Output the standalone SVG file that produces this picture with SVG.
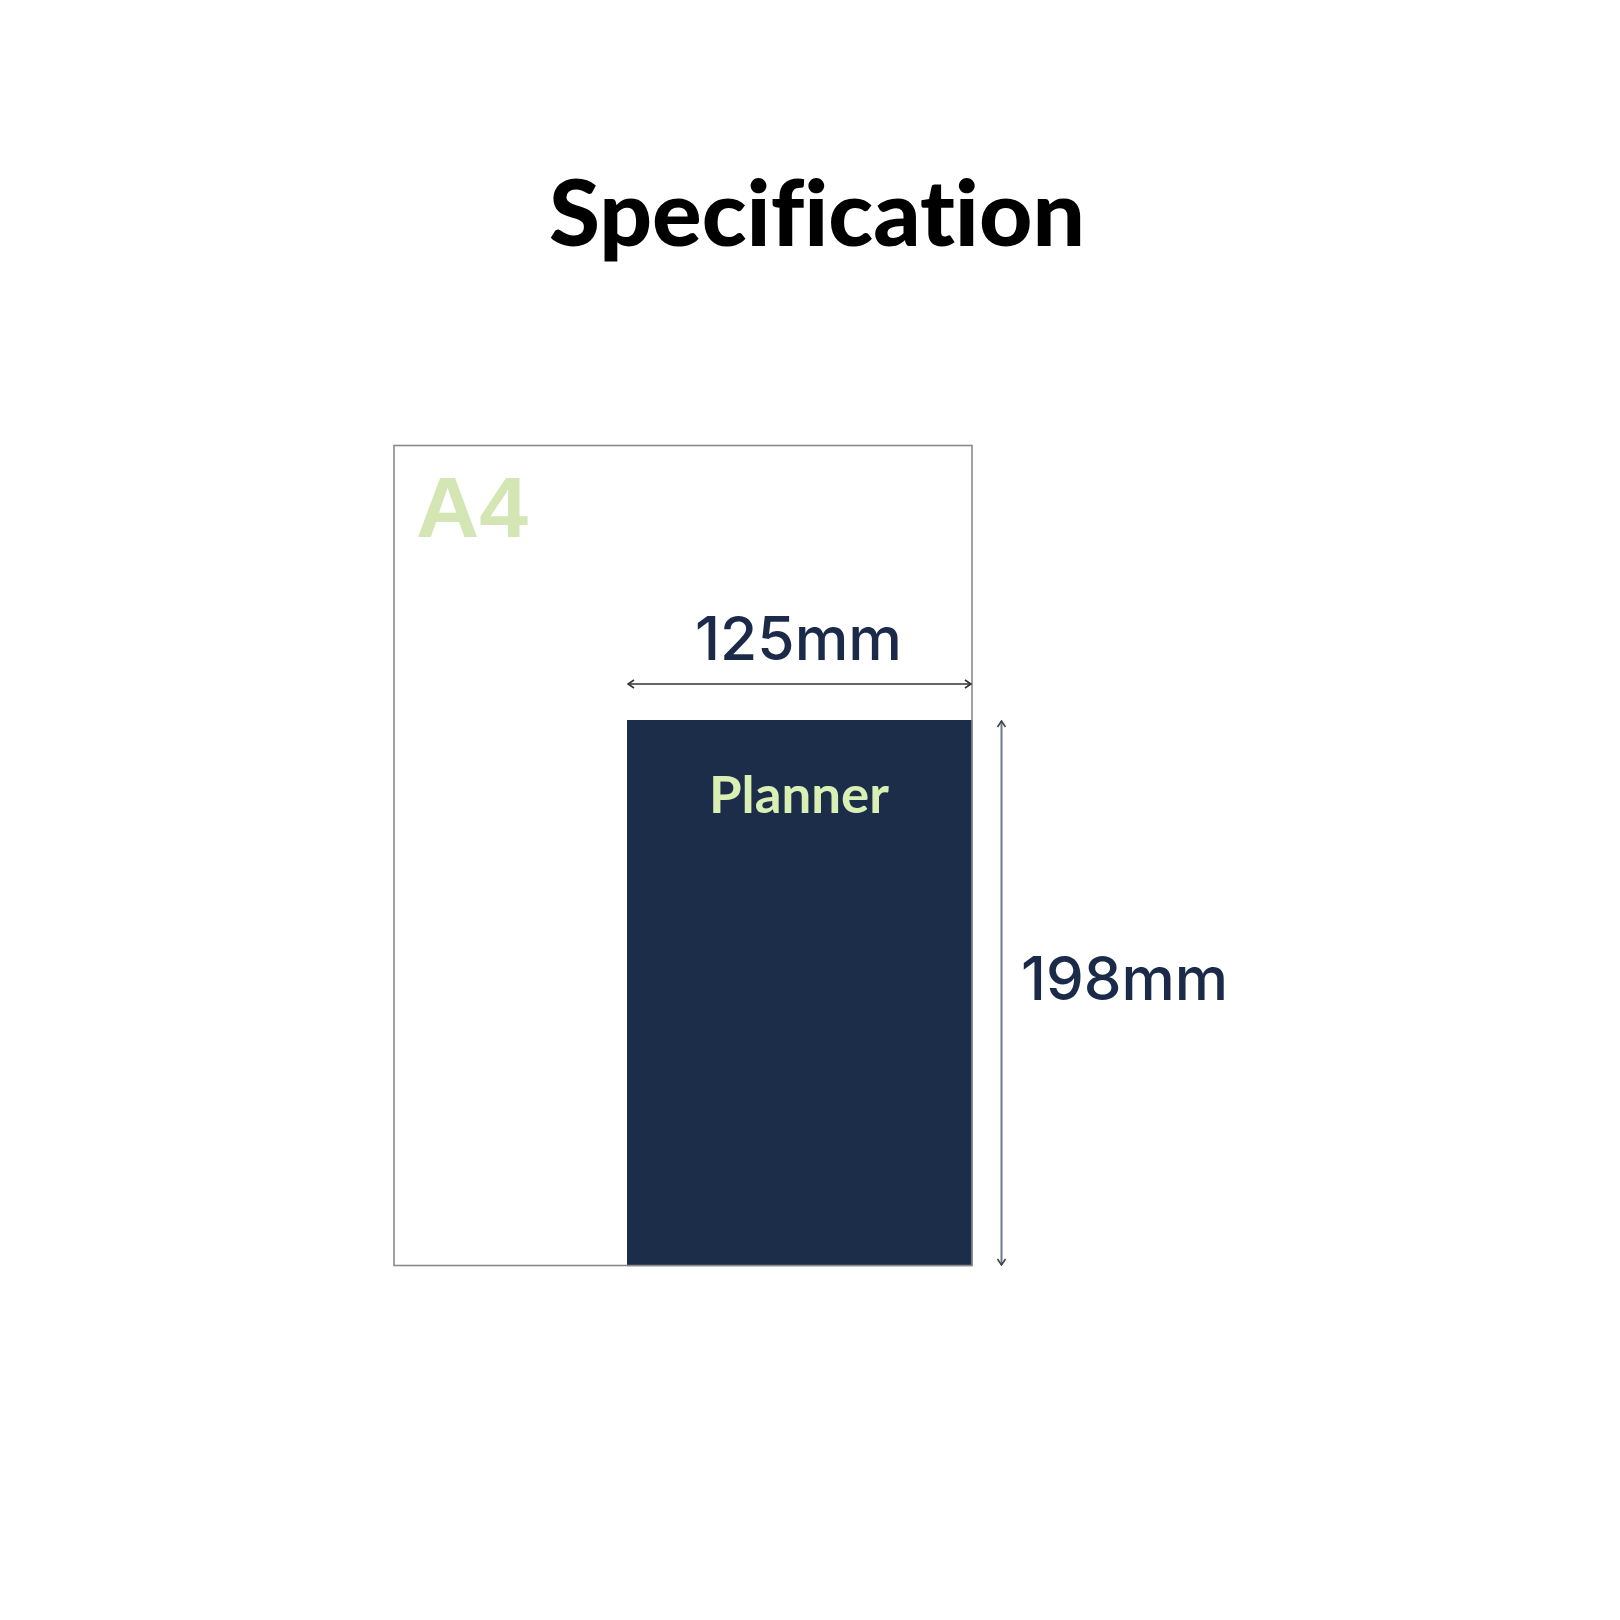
<svg xmlns="http://www.w3.org/2000/svg" width="1620" height="1620" viewBox="0 0 1620 1620">
  <style>
    text { font-variant-ligatures: none; font-feature-settings: "liga" 0, "clig" 0; }
    .title { font-family: Lato, "Noto Sans", "Liberation Sans", sans-serif; font-weight: 900; fill: #000; }
    .dim { font-family: Inter, "Liberation Sans", Arial, sans-serif; font-weight: 500; fill: #1a2a48; font-size: 60px; }
    .a4 { font-family: "Liberation Sans", Arial, sans-serif; font-weight: 700; fill: #d3e6b4; font-size: 85px; }
    .planner { font-family: Lato, "Noto Sans", "Liberation Sans", sans-serif; font-weight: 700; fill: #d9efb4; font-size: 51px; }
  </style>
  <defs>
    <marker id="chev" viewBox="0 0 10 10" refX="9" refY="5" markerWidth="10" markerHeight="10" markerUnits="userSpaceOnUse" orient="auto-start-reverse">
      <path d="M3,1 L9,5 L3,9" fill="none" stroke="#333" stroke-width="1.6"/>
    </marker>
    <marker id="chevV" viewBox="0 0 10 10" refX="9" refY="5" markerWidth="10" markerHeight="10" markerUnits="userSpaceOnUse" orient="auto-start-reverse">
      <path d="M3,1 L9,5 L3,9" fill="none" stroke="#444" stroke-width="1.6"/>
    </marker>
  </defs>
  <rect width="1620" height="1620" fill="#ffffff"/>
  <g id="title">
    <text class="title" x="549" y="246" font-size="92" textLength="536" lengthAdjust="spacingAndGlyphs">Specification</text>
  </g>
  <g id="a4-sheet">
    <rect x="394" y="445.5" width="578" height="820" fill="#ffffff" stroke="#8a8a8a" stroke-width="1.6"/>
    <text class="a4" x="416" y="537" textLength="112" lengthAdjust="spacingAndGlyphs">A4</text>
  </g>
  <g id="planner">
    <rect x="627" y="720" width="345" height="545.5" fill="#1c2d4a"/>
    <line x1="972" y1="720" x2="972" y2="1265.5" stroke="#8a8a8a" stroke-width="1.6"/>
    <line x1="627" y1="1265.5" x2="972" y2="1265.5" stroke="#8a8a8a" stroke-width="1.6"/>
    <text class="planner" x="799" y="813" text-anchor="middle" textLength="180" lengthAdjust="spacingAndGlyphs">Planner</text>
  </g>
  <g id="connectors">
    <line x1="628" y1="684" x2="971" y2="684" stroke="#666" stroke-width="2" marker-start="url(#chev)" marker-end="url(#chev)"/>
    <line x1="1001.5" y1="721" x2="1001.5" y2="1265" stroke="#6e7891" stroke-width="2" marker-start="url(#chevV)" marker-end="url(#chevV)"/>
  </g>
  <g id="labels">
    <text class="dim" x="695" y="660" textLength="207" lengthAdjust="spacingAndGlyphs">125mm</text>
    <text class="dim" x="1021" y="1000" textLength="207" lengthAdjust="spacingAndGlyphs">198mm</text>
  </g>
</svg>
